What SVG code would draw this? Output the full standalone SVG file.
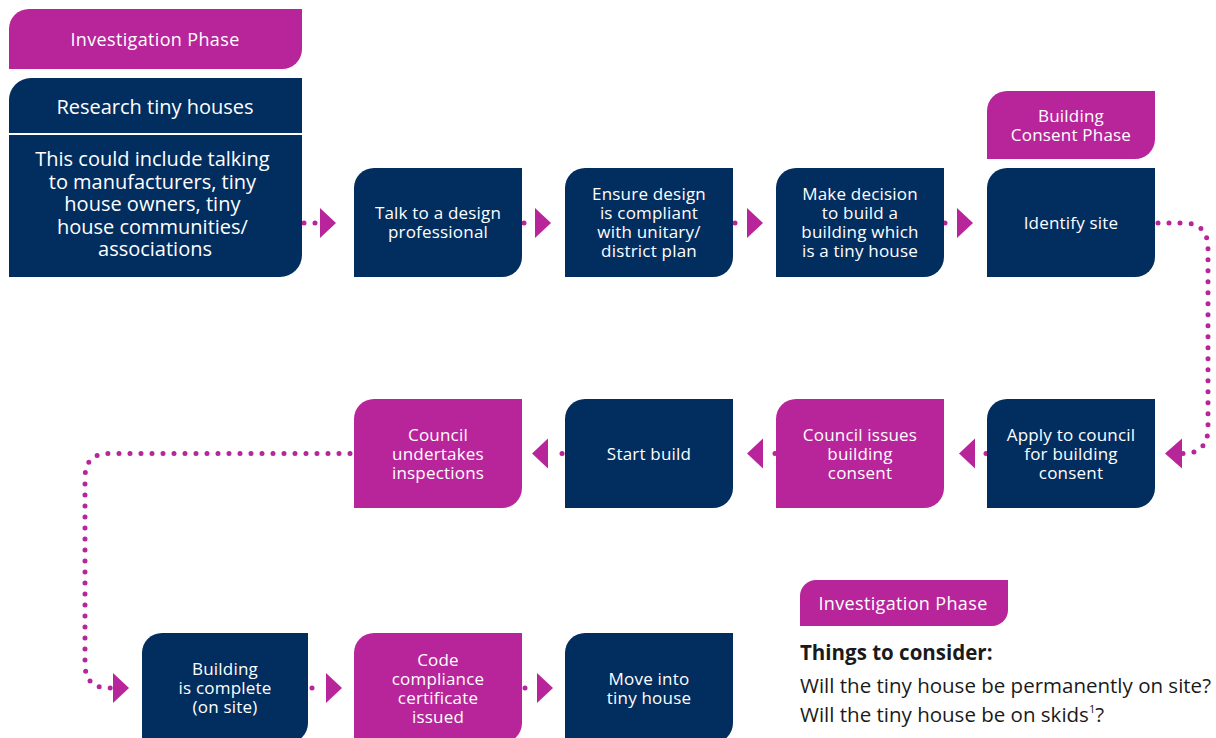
<svg xmlns="http://www.w3.org/2000/svg" width="1216" height="738" viewBox="0 0 1216 738">
<style>
.navy{fill:#022e5f}
.mag{fill:#b8259b}
.t{font-family:"Open Sans","Liberation Sans",sans-serif;fill:#ffffff;text-anchor:middle}
.bx{font-size:17px;letter-spacing:0.2px}
.hd{font-size:18px;letter-spacing:0.35px}
.big{font-size:20px}
.dot{fill:none;stroke:#b8259b;stroke-width:5;stroke-linecap:round;stroke-dasharray:0 11}
.head{fill:#b8259b}
.note{font-family:"Open Sans","Liberation Sans",sans-serif;fill:#1a1a1a;font-size:20.5px}
</style>
<rect width="1216" height="738" fill="#ffffff"/>

<g id="connectors">
<path class="dot" d="M304,223 H316"/>
<polygon class="head" points="320,208 336,223 320,238"/>
<path class="dot" d="M524,223 H535"/>
<polygon class="head" points="535,208 551,223 535,238"/>
<path class="dot" d="M735,223 H746"/>
<polygon class="head" points="747,208 763,223 747,238"/>
<path class="dot" d="M945,223 H956"/>
<polygon class="head" points="957,208 973,223 957,238"/>
<path class="dot" d="M1158,223 H1183 Q1208,223 1208,248 V428 Q1208,453.5 1183,453.5"/>
<polygon class="head" points="1182,438.5 1165,453.5 1182,468.5"/>
<path class="dot" d="M986,453.5 H975"/>
<polygon class="head" points="975,438.5 959,453.5 975,468.5"/>
<path class="dot" d="M775,453.5 H764"/>
<polygon class="head" points="763,438.5 747,453.5 763,468.5"/>
<path class="dot" d="M562,453.5 H551"/>
<polygon class="head" points="548,438.5 532,453.5 548,468.5"/>
<path class="dot" d="M350,453.5 H109 Q85,453.5 85,478 V664 Q85,688 109,688 H112"/>
<polygon class="head" points="113,673 129,688 113,703"/>
<path class="dot" d="M312,688 H323"/>
<polygon class="head" points="326,673 342,688 326,703"/>
<path class="dot" d="M525,688 H536"/>
<polygon class="head" points="537,673 553,688 537,703"/>
</g>

<g id="tag-investigation">
<path class="mag" d="M29,9 H302 V49 A20,20 0 0 1 282,69 H9 V29 A20,20 0 0 1 29,9 Z"/>
<text class="t hd" x="155" y="46">Investigation Phase</text>
</g>

<g id="research">
<path class="navy" d="M31,78 H302 V133 H9 V100 A22,22 0 0 1 31,78 Z"/>
<path class="navy" d="M9,135 H302 V255 A22,22 0 0 1 280,277 H9 Z"/>
<text class="t big" x="155" y="114">Research tiny houses</text>
<text class="t big" x="155">
<tspan x="155" y="166">This could include talking</tspan>
<tspan x="155" y="188.5">to manufacturers, tiny</tspan>
<tspan x="155" y="211">house owners, tiny</tspan>
<tspan x="155" y="233.5">house communities/</tspan>
<tspan x="155" y="256">associations</tspan>
</text>
</g>

<g id="talk">
<path class="navy" d="M374,168 H522 V257 A20,20 0 0 1 502,277 H354 V188 A20,20 0 0 1 374,168 Z"/>
<text class="t bx"><tspan x="438" y="219">Talk to a design</tspan><tspan x="438" y="238">professional</tspan></text>
</g>

<g id="ensure">
<path class="navy" d="M585,168 H733 V257 A20,20 0 0 1 713,277 H565 V188 A20,20 0 0 1 585,168 Z"/>
<text class="t bx"><tspan x="649" y="200">Ensure design</tspan><tspan x="649" y="219">is compliant</tspan><tspan x="649" y="238">with unitary/</tspan><tspan x="649" y="257">district plan</tspan></text>
</g>

<g id="decision">
<path class="navy" d="M796,168 H944 V257 A20,20 0 0 1 924,277 H776 V188 A20,20 0 0 1 796,168 Z"/>
<text class="t bx"><tspan x="860" y="200">Make decision</tspan><tspan x="860" y="219">to build a</tspan><tspan x="860" y="238">building which</tspan><tspan x="860" y="257">is a tiny house</tspan></text>
</g>

<g id="tag-consent">
<path class="mag" d="M1007,91 H1155 V139 A20,20 0 0 1 1135,159 H987 V111 A20,20 0 0 1 1007,91 Z"/>
<text class="t bx"><tspan x="1071" y="122">Building</tspan><tspan x="1071" y="141">Consent Phase</tspan></text>
</g>

<g id="identify">
<path class="navy" d="M1007,168 H1155 V257 A20,20 0 0 1 1135,277 H987 V188 A20,20 0 0 1 1007,168 Z"/>
<text class="t bx" x="1071" y="229">Identify site</text>
</g>

<g id="apply">
<path class="navy" d="M1007,399 H1155 V488 A20,20 0 0 1 1135,508 H987 V419 A20,20 0 0 1 1007,399 Z"/>
<text class="t bx"><tspan x="1071" y="441">Apply to council</tspan><tspan x="1071" y="460">for building</tspan><tspan x="1071" y="479">consent</tspan></text>
</g>

<g id="issues">
<path class="mag" d="M796,399 H944 V488 A20,20 0 0 1 924,508 H776 V419 A20,20 0 0 1 796,399 Z"/>
<text class="t bx"><tspan x="860" y="441">Council issues</tspan><tspan x="860" y="460">building</tspan><tspan x="860" y="479">consent</tspan></text>
</g>

<g id="start">
<path class="navy" d="M585,399 H733 V488 A20,20 0 0 1 713,508 H565 V419 A20,20 0 0 1 585,399 Z"/>
<text class="t bx" x="649" y="460">Start build</text>
</g>

<g id="inspections">
<path class="mag" d="M374,399 H522 V488 A20,20 0 0 1 502,508 H354 V419 A20,20 0 0 1 374,399 Z"/>
<text class="t bx"><tspan x="438" y="441">Council</tspan><tspan x="438" y="460">undertakes</tspan><tspan x="438" y="479">inspections</tspan></text>
</g>

<g id="complete">
<path class="navy" d="M162,633 H308 V723 A20,20 0 0 1 288,743 H142 V653 A20,20 0 0 1 162,633 Z"/>
<text class="t bx"><tspan x="225" y="675">Building</tspan><tspan x="225" y="694">is complete</tspan><tspan x="225" y="713">(on site)</tspan></text>
</g>

<g id="ccc">
<path class="mag" d="M374,633 H522 V723 A20,20 0 0 1 502,743 H354 V653 A20,20 0 0 1 374,633 Z"/>
<text class="t bx"><tspan x="438" y="666">Code</tspan><tspan x="438" y="685">compliance</tspan><tspan x="438" y="704">certificate</tspan><tspan x="438" y="723">issued</tspan></text>
</g>

<g id="move">
<path class="navy" d="M585,633 H733 V723 A20,20 0 0 1 713,743 H565 V653 A20,20 0 0 1 585,633 Z"/>
<text class="t bx"><tspan x="649" y="685">Move into</tspan><tspan x="649" y="704">tiny house</tspan></text>
</g>

<g id="considerations">
<path class="mag" d="M816,580 H1008 V610 A16,16 0 0 1 992,626 H800 V596 A16,16 0 0 1 816,580 Z"/>
<text class="t hd" x="903" y="610">Investigation Phase</text>
<text class="note" x="800" y="660" font-weight="bold">Things to consider:</text>
<text class="note" x="800" y="693">Will the tiny house be permanently on site?</text>
<text class="note" x="800" y="722">Will the tiny house be on skids<tspan font-size="11" dy="-9">1</tspan><tspan dy="9">?</tspan></text>
</g>
</svg>
